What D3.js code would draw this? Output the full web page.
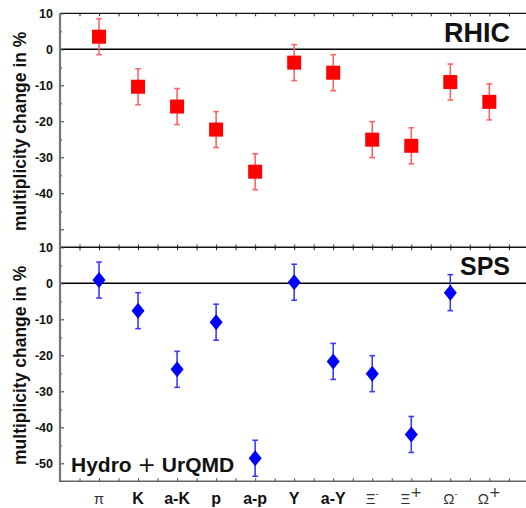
<!DOCTYPE html>
<html>
<head>
<meta charset="utf-8">
<script src="https://cdn.jsdelivr.net/npm/d3@7/dist/d3.min.js"></script>
<style>
  html, body { margin: 0; padding: 0; background: #fff; }
  svg { display: block; }
  text { font-family: "Liberation Sans", Arial, sans-serif; }
</style>
</head>
<body>
<svg id="chart" width="526" height="508"></svg>
<script>
// ---- data ----
const categories = ["π", "K", "a-K", "p", "a-p", "Y", "a-Y", "Ξ-", "Ξ+", "Ω-", "Ω+"];
const rhicValues = [3.5, -10.4, -15.9, -22.3, -34.0, -3.7, -6.5, -25.1, -26.8, -9.1, -14.6];
const rhicErrors = [5, 5, 5, 5, 5, 5, 5, 5, 5, 5, 5];
const spsValues  = [0.9, -7.6, -23.9, -10.8, -48.6, 0.3, -21.7, -25.1, -42.0, -2.6, null];
const spsErrors  = [5, 5, 5, 5, 5, 5, 5, 5, 5, 5, null];
const topTickLabels = [10, 0, -10, -20, -30, -40];
const bottomTickLabels = [10, 0, -10, -20, -30, -40, -50];
const yMajorTicks = [10, 0, -10, -20, -30, -40, -50];
const yMinorTicks = [5, -5, -15, -25, -35, -45];
const yDomain = [-55, 10];
const panelLabels = ["RHIC", "SPS"];
const modelLabelParts = ["Hydro ", "+", " UrQMD"];
const yTitle = "multiplicity change in %";

// ---- layout ----
const svg = d3.select("#chart");
const xLeft = 60, step = 39.03;
const x = d3.scaleLinear().domain([-1, 11]).range([xLeft, xLeft + 12 * step]);
const xRight = 526;
const panels = [
  { top: 13.3, bottom: 247.3, values: rhicValues, errors: rhicErrors, label: panelLabels[0],
    labels: topTickLabels, color: "#ff0000", errColor: "#ff6464", marker: "square", labelY: 41.7 },
  { top: 247.3, bottom: 481.3, values: spsValues, errors: spsErrors, label: panelLabels[1],
    labels: bottomTickLabels, color: "#0000ff", errColor: "#3c3cff", marker: "diamond", labelY: 274.5 }
];
const halfTicks = d3.range(-0.5, 11, 0.5);

panels.forEach((p, pi) => {
  const y = d3.scaleLinear().domain(yDomain).range([p.bottom, p.top]);
  const g = svg.append("g");

  // zero line
  g.append("line").attr("x1", xLeft).attr("x2", xRight)
    .attr("y1", y(0)).attr("y2", y(0))
    .attr("stroke", "#000").attr("stroke-width", 1.5);

  // top border with inward ticks
  const topAxis = g.append("g").attr("transform", `translate(0,${p.top})`)
    .call(d3.axisTop(x).tickValues(halfTicks).tickSize(-3).tickFormat(""));
  topAxis.select(".domain").remove();
  topAxis.selectAll("line").attr("stroke", "#222");
  g.append("line").attr("x1", xLeft).attr("x2", xRight)
    .attr("y1", p.top).attr("y2", p.top)
    .attr("stroke", "#111").attr("stroke-width", pi === 0 ? 1.2 : 1.5);

  // bottom ticks
  const botAxis = g.append("g").attr("transform", `translate(0,${p.bottom})`)
    .call(d3.axisBottom(x).tickValues(halfTicks).tickSize(-3).tickFormat(""));
  botAxis.select(".domain").remove();
  botAxis.selectAll("line").attr("stroke", "#444");

  // y major ticks + labels
  const yAx = g.append("g").attr("transform", `translate(${xLeft},0)`)
    .call(d3.axisLeft(y).tickValues(yMajorTicks).tickSize(-4).tickPadding(7)
      .tickFormat(d => p.labels.includes(d) ? d : ""));
  yAx.select(".domain").remove();
  yAx.selectAll("line").attr("stroke", "#333");
  yAx.selectAll("text").attr("font-size", 12.5).attr("font-weight", "bold")
    .attr("font-family", "'Liberation Sans', Arial, sans-serif").attr("fill", "#111");
  // y minor ticks
  const yMin = g.append("g").attr("transform", `translate(${xLeft},0)`)
    .call(d3.axisLeft(y).tickValues(yMinorTicks).tickSize(-2).tickFormat(""));
  yMin.select(".domain").remove();
  yMin.selectAll("line").attr("stroke", "#333");

  // error bars
  const pts = categories.map((c, i) => ({ i, v: p.values[i], e: p.errors[i] }))
    .filter(d => d.v !== null);
  const eb = g.append("g").attr("stroke", p.errColor).attr("stroke-width", 1.6);
  pts.forEach(d => {
    const cx = x(d.i);
    eb.append("line").attr("x1", cx).attr("x2", cx)
      .attr("y1", y(d.v + d.e)).attr("y2", y(d.v - d.e));
    [d.v + d.e, d.v - d.e].forEach(v => {
      eb.append("line").attr("x1", cx - 2.8).attr("x2", cx + 2.8)
        .attr("y1", y(v)).attr("y2", y(v));
    });
  });

  // markers
  if (p.marker === "square") {
    g.selectAll("rect.m").data(pts).join("rect").attr("class", "m")
      .attr("x", d => x(d.i) - 7).attr("y", d => y(d.v) - 7)
      .attr("width", 14).attr("height", 14).attr("fill", p.color);
  } else {
    g.selectAll("path.m").data(pts).join("path").attr("class", "m")
      .attr("d", d => {
        const cx = x(d.i), cy = y(d.v), w = 6.5, h = 8;
        return `M${cx},${cy - h}L${cx + w},${cy}L${cx},${cy + h}L${cx - w},${cy}Z`;
      })
      .attr("fill", p.color);
  }

  // panel label
  g.append("text").attr("x", 510).attr("y", p.labelY).attr("text-anchor", "end")
    .attr("font-size", pi === 0 ? 27 : 25).attr("font-weight", "bold").attr("fill", "#111")
    .text(p.label);

  // y title
  g.append("text")
    .attr("transform", `translate(26,${(p.top + p.bottom) / 2 + 1}) rotate(-90)`)
    .attr("text-anchor", "middle").attr("font-size", 17.5).attr("font-weight", "bold")
    .attr("fill", "#111").text(yTitle);
});

// left axis line
svg.append("line").attr("x1", xLeft).attr("x2", xLeft)
  .attr("y1", panels[0].top).attr("y2", panels[1].bottom)
  .attr("stroke", "#777").attr("stroke-width", 2.2);
// bottom axis line
svg.append("line").attr("x1", xLeft - 1).attr("x2", xRight)
  .attr("y1", panels[1].bottom).attr("y2", panels[1].bottom)
  .attr("stroke", "#666").attr("stroke-width", 1.6);

// model label
const ml = svg.append("text").attr("x", 71).attr("y", 472.3)
  .attr("font-size", 21).attr("font-weight", "bold").attr("fill", "#111")
  .attr("xml:space", "preserve").style("white-space", "pre");
ml.append("tspan").text(modelLabelParts[0]);
ml.append("tspan").text(modelLabelParts[1])
  .attr("font-family", "'DejaVu Sans', sans-serif").attr("font-weight", "normal").attr("font-size", 22);
ml.append("tspan").text(modelLabelParts[2]);

// category labels
const greek = /^[πΞΩ]/;
categories.forEach((c, i) => {
  const t = svg.append("text").attr("x", x(i)).attr("y", 504).attr("text-anchor", "middle").attr("fill", "#111");
  if (greek.test(c)) {
    const base = c[0], sup = c.slice(1);
    t.attr("font-family", "'DejaVu Serif', serif").attr("font-size", 15).attr("font-weight", "normal");
    t.append("tspan").text(base).attr("fill", "#333");
    if (sup) {
      t.append("tspan").text(sup === "-" ? "-" : "+")
        .attr("font-size", sup === "-" ? 9 : 14).attr("dy", -7)
        .attr("font-family", sup === "-" ? "'DejaVu Serif', serif" : "'DejaVu Sans', sans-serif")
        .attr("fill", "#333");
    }
  } else {
    t.attr("font-size", 16).attr("font-weight", "bold").text(c);
  }
});
</script>
</body>
</html>
